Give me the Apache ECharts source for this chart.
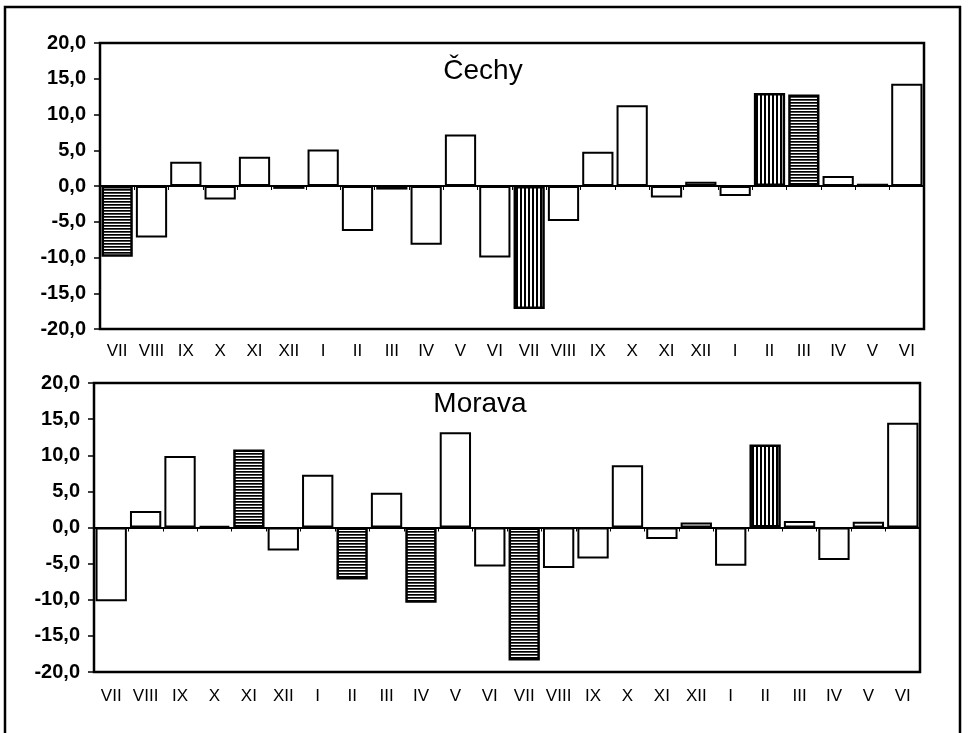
<!DOCTYPE html>
<html>
<head>
<meta charset="utf-8">
<script src="https://cdn.jsdelivr.net/npm/echarts@6/dist/echarts.min.js"></script>
<style>
html,body{margin:0;padding:0;background:#fff;}
#chart{width:968px;height:733px;}
</style>
</head>
<body>
<div id="chart"></div>
<script>
// ---- data ----
const months = ['VII','VIII','IX','X','XI','XII','I','II','III','IV','V','VI','VII','VIII','IX','X','XI','XII','I','II','III','IV','V','VI'];
const cechyValues  = [-9.9,-7.2,3.4,-1.9,4.1,-0.4,5.1,-6.3,-0.5,-8.2,7.2,-10.0,-17.2,-4.9,4.8,11.3,-1.6,0.6,-1.4,13.0,12.8,1.4,0.3,14.3];
const moravaValues = [-10.2,2.3,9.9,0.2,10.8,-3.2,7.3,-7.2,4.8,-10.4,13.2,-5.4,-18.4,-5.6,-4.3,8.6,-1.6,0.7,-5.3,11.5,0.9,-4.5,0.8,14.5];
// marked months: 'h' = horizontal hatching, 'v' = vertical hatching, '' = plain
const cechyMarks  = ['h','','','','','','','','','','','','v','','','','','','','v','h','','',''];
const moravaMarks = ['','','','','h','','','h','','h','','','h','','','','','','','v','','','',''];
const yTicks = {min:-20, max:20, interval:5};
const panelTitles = ['Čechy','Morava'];

// ---- patterns ----
function makePattern(dir){
  const c = document.createElement('canvas');
  const ctx = c.getContext('2d');
  if (dir === 'h') {
    c.width = 4; c.height = 3;
    ctx.fillStyle = '#fff'; ctx.fillRect(0,0,4,3);
    ctx.fillStyle = '#000'; ctx.fillRect(0,0,4,1.7);
  } else {
    c.width = 4; c.height = 4;
    ctx.fillStyle = '#fff'; ctx.fillRect(0,0,4,4);
    ctx.fillStyle = '#000'; ctx.fillRect(0,0,2,4);
  }
  return {image: c, repeat: 'repeat'};
}
const patterns = {h: makePattern('h'), v: makePattern('v')};

function buildData(values, marks){
  return values.map((v,i)=>{
    const m = marks[i];
    return {
      value: v,
      itemStyle: m ? {color: patterns[m], borderColor:'#000', borderWidth:2.5} : {color:'#fff', borderColor:'#000', borderWidth:2}
    };
  });
}

const grids = [
  {left:100, top:43, width:824, height:286},
  {left:94, top:383, width:826, height:289}
];
const labelFont = {fontFamily:'Liberation Sans, Arial, sans-serif', color:'#000'};

const xAxes = [], yAxes = [], series = [];
grids.forEach((g, gi)=>{
  xAxes.push({
    type:'category', gridIndex:gi, data:months, position:'bottom',
    axisLine:{show:false, onZero:false}, axisTick:{show:false},
    axisLabel:Object.assign({fontSize:17, margin:gi===0?14:16, interval:0}, labelFont),
    splitLine:{show:false}
  });
  xAxes.push({
    type:'category', gridIndex:gi, data:months, position:'bottom',
    axisLine:{show:true, onZero:true, lineStyle:{color:'#000', width:2}},
    axisTick:{show:true, length:4, lineStyle:{color:'#000', width:1}},
    axisLabel:{show:false}, splitLine:{show:false}
  });
  yAxes.push({
    type:'value', gridIndex:gi, min:yTicks.min, max:yTicks.max, interval:yTicks.interval,
    axisLine:{show:true, lineStyle:{color:'#000', width:2}},
    axisTick:{show:true, length:6, lineStyle:{color:'#000', width:1.5}},
    splitLine:{show:false},
    axisLabel:Object.assign({fontSize:20, fontWeight:'bold', margin:14,
      formatter:v=>v.toFixed(1).replace('.',',')}, labelFont)
  });
  series.push({
    type:'bar', xAxisIndex:gi*2, yAxisIndex:gi,
    data: buildData(gi===0?cechyValues:moravaValues, gi===0?cechyMarks:moravaMarks),
    barCategoryGap:'9%', animation:false,
    emphasis:{disabled:true}
  });
});

const chart = echarts.init(document.getElementById('chart'), null, {renderer:'canvas'});
chart.setOption({
  backgroundColor:'#fff',
  animation:false,
  grid: grids.map(g=>Object.assign({show:true, borderColor:'#000', borderWidth:2.5, backgroundColor:'transparent', containLabel:false}, g)),
  xAxis: xAxes,
  yAxis: yAxes,
  series: series,
  title: [
    {text:panelTitles[0], left:478, top:52, textAlign:'center', textStyle:Object.assign({fontSize:28, fontWeight:'normal'}, labelFont)},
    {text:panelTitles[1], left:475, top:385, textAlign:'center', textStyle:Object.assign({fontSize:28, fontWeight:'normal'}, labelFont)}
  ],
  graphic: [
    {type:'rect', shape:{x:5, y:7, width:955, height:740}, style:{fill:'none', stroke:'#000', lineWidth:2.5}, silent:true}
  ]
});
</script>
</body>
</html>
